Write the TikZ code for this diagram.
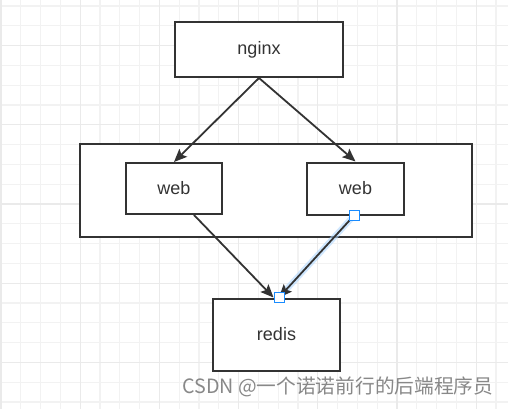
\documentclass[tikz,border=0pt]{standalone}
\usepackage{fontspec}
\setmainfont{Liberation Sans}
\newfontfamily\cjkfont{Noto Sans CJK SC}
\usetikzlibrary{arrows.meta,positioning}
\definecolor{edge}{HTML}{333333}
\definecolor{gridln}{HTML}{F2F2F2}
\definecolor{gridmj}{HTML}{EAEAEA}
\definecolor{sel}{HTML}{1A8CFF}
\definecolor{mark}{HTML}{888888}

\begin{document}
\begin{tikzpicture}[
    x=1pt, y=-1pt,
    box/.style={draw=edge, line width=2pt, fill=white, text=edge, inner sep=0pt, font=\fontsize{18}{20}\selectfont},
    arr/.style={-{Stealth[length=13pt, width=11pt, inset=2.5pt]}, line width=1.8pt, draw=edge},
    handle/.style={draw=sel, fill=white, line width=1pt, minimum size=10pt, inner sep=0pt}
  ]
    \useasboundingbox (0,0) rectangle (508,409);
    \fill[white] (0,0) rectangle (508,409);
    % grid
    \foreach \i in {0,...,25} \draw[gridln, line width=1.2pt] ({1+19.8*\i},0) -- ({1+19.8*\i},409);
    \foreach \j in {0,...,20} \draw[gridln, line width=1.2pt] (0,{6+19.8*\j}) -- (508,{6+19.8*\j});
    \foreach \i in {0,4,...,24} \draw[gridmj, line width=1.2pt] ({1+19.8*\i},0) -- ({1+19.8*\i},409);
    \foreach \j in {2,6,...,18} \draw[gridmj, line width=1.2pt] (0,{6+19.8*\j}) -- (508,{6+19.8*\j});

    \node[box, minimum width=168pt, minimum height=55pt] (nginx) at (259,49.5) {nginx};
    \node[box, minimum width=392pt, minimum height=93pt] (pool) at (276,190.5) {};
    \node[box, minimum width=96pt, minimum height=51pt] (web1) at (174,188.5) {web};
    \node[box, minimum width=97pt, minimum height=52pt, right=83pt of web1] (web2) {web};
    \node[box, minimum width=127pt, minimum height=72pt] (redis) at (276.5,334.5) {redis};

    \draw[arr] (nginx.south) -- (web1.north);
    \draw[arr] (nginx.south) -- (web2.north);
    \draw[arr] ([xshift=20pt]web1.south) -- ([xshift=-3pt]redis.north);
    % selected edge
    \draw[sel!35, line width=6pt, opacity=0.6] ([xshift=-1.5pt]web2.south) -- ([xshift=2.5pt]redis.north);
    \draw[arr] ([xshift=-1.5pt]web2.south) -- ([xshift=2.5pt]redis.north);
    \node[handle] (h1) at ([xshift=-1.5pt]web2.south) {};
    \node[handle] (h2) at ([xshift=2.5pt]redis.north) {};

    \node[anchor=base west, inner sep=0pt, text=mark, font=\cjkfont\fontsize{19.7}{22}\selectfont] (wm) at (182,393) {CSDN @一个诺诺前行的后端程序员};
\end{tikzpicture}
\end{document}
